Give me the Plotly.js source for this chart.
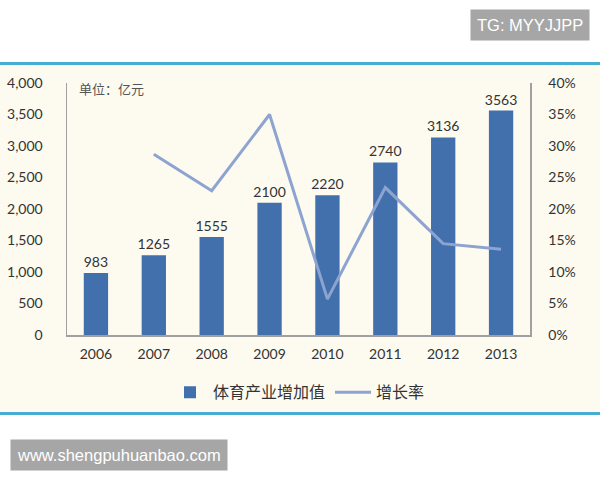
<!DOCTYPE html>
<html>
<head>
<meta charset="utf-8">
<script src="https://cdn.plot.ly/plotly-3.0.1.min.js"></script>
<style>html,body{margin:0;padding:0;background:#fff;}#chart{width:600px;height:480px;}</style>
</head>
<body>
<div id="chart"></div>
<script>
const years = ['2006','2007','2008','2009','2010','2011','2012','2013'];
const addedValue = [983, 1265, 1555, 2100, 2220, 2740, 3136, 3563];
const growthYears = ['2007','2008','2009','2010','2011','2012','2013'];
const growthRate = [0.287, 0.229, 0.350, 0.057, 0.234, 0.145, 0.136];
const leftTicks = [0, 500, 1000, 1500, 2000, 2500, 3000, 3500, 4000];
const rightTicks = [0, 0.05, 0.10, 0.15, 0.20, 0.25, 0.30, 0.35, 0.40];

const txtFont = 'Lato, "Noto Sans CJK SC", sans-serif';
const cjkFont = '"Noto Sans CJK SC", Lato, sans-serif';

const traces = [
  {
    type: 'bar', name: '体育产业增加值', x: years, y: addedValue,
    marker: {color: '#4170ad'}, width: 0.42,
    text: addedValue.map(String), textposition: 'outside', cliponaxis: false,
    constraintext: 'none',
    textfont: {family: txtFont, size: 14, color: '#333'}
  },
  {
    type: 'scatter', mode: 'lines', name: '增长率', x: growthYears, y: growthRate,
    yaxis: 'y2', line: {color: '#8da3d0', width: 3}
  }
];

const layout = {
  width: 600, height: 480,
  margin: {l: 67, r: 70, t: 83, b: 145},
  paper_bgcolor: 'rgba(0,0,0,0)', plot_bgcolor: 'rgba(0,0,0,0)',
  showlegend: true,
  legend: {orientation: 'h', x: 0.5, xanchor: 'center', y: -0.16, yanchor: 'top',
    font: {family: cjkFont, size: 16, color: '#333'}, traceorder: 'normal', itemwidth: 36},
  xaxis: {
    type: 'category', showline: true, linecolor: '#a0a0a0', linewidth: 1.5,
    mirror: false, ticks: '', ticklabelstandoff: 6,
    tickfont: {family: txtFont, size: 14, color: '#333'}, fixedrange: true
  },
  yaxis: {
    range: [0, 4000], tickvals: leftTicks, ticktext: leftTicks.map(v => v.toLocaleString('en-US')),
    showgrid: false, zeroline: false, showline: true, linecolor: '#a0a0a0', linewidth: 1.5,
    ticks: '', ticklabelstandoff: 20,
    tickfont: {family: txtFont, size: 14, color: '#333'}
  },
  yaxis2: {
    overlaying: 'y', side: 'right', range: [0, 0.40], tickvals: rightTicks,
    ticktext: rightTicks.map(v => Math.round(v * 100) + '%'),
    showgrid: false, zeroline: false, showline: true, linecolor: '#a0a0a0', linewidth: 1.5,
    ticks: '', ticklabelstandoff: 14,
    tickfont: {family: txtFont, size: 14, color: '#333'}
  },
  shapes: [
    {type: 'rect', xref: 'paper', yref: 'paper', x0: -0.2, x1: 1.2,
      y0: -(413 - 335) / 252, y1: 1 + (83 - 64) / 252,
      fillcolor: '#fdfaf0', line: {width: 0}, layer: 'below'},
    {type: 'line', xref: 'paper', yref: 'paper', x0: -67 / 463, x1: 1 + 70 / 463,
      y0: 1 + (83 - 63.5) / 252, y1: 1 + (83 - 63.5) / 252, line: {color: '#45aed0', width: 3}},
    {type: 'line', xref: 'paper', yref: 'paper', x0: -67 / 463, x1: 1 + 70 / 463,
      y0: -(413.5 - 335) / 252, y1: -(413.5 - 335) / 252, line: {color: '#45aed0', width: 3}}
  ],
  annotations: [
    {text: '单位：亿元', xref: 'paper', yref: 'paper', x: (77 - 67) / 463, y: 1 - (88 - 83) / 252,
      xanchor: 'left', yanchor: 'middle', showarrow: false,
      font: {family: cjkFont, size: 13, color: '#555'}},
    {text: 'TG: MYYJJPP', xref: 'paper', yref: 'paper', x: (590 - 67) / 463, y: 1 + (83 - 25) / 252,
      xanchor: 'right', yanchor: 'middle', showarrow: false, bgcolor: '#a6a6a6',
      borderpad: 6, font: {family: 'Liberation Sans, Arial, sans-serif', size: 16.5, color: '#fff'}},
    {text: 'www.shengpuhuanbao.com', xref: 'paper', yref: 'paper', x: (10 - 67) / 463, y: -(454.5 - 335) / 252,
      xanchor: 'left', yanchor: 'middle', showarrow: false, bgcolor: '#a6a6a6',
      borderpad: 6, font: {family: 'Liberation Sans, Arial, sans-serif', size: 16.5, color: '#fff'}}
  ]
};

Plotly.newPlot('chart', traces, layout, {displayModeBar: false, staticPlot: true});
</script>
</body>
</html>
